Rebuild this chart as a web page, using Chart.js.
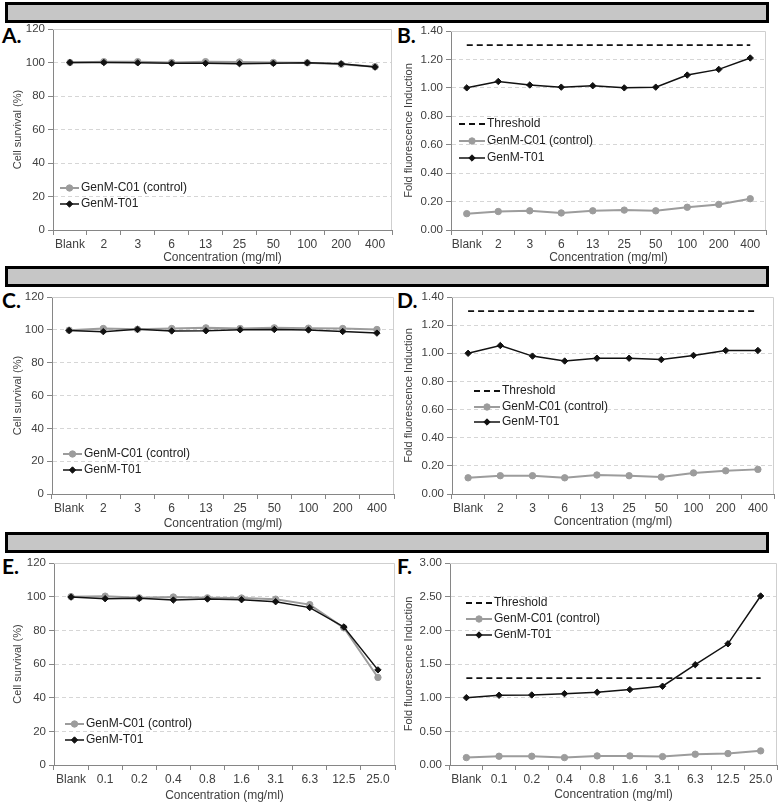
<!DOCTYPE html>
<html>
<head>
<meta charset="utf-8">
<script src="https://cdn.jsdelivr.net/npm/chart.js@4.4.1/dist/chart.umd.min.js"></script>
<style>
    body { margin: 0; width: 782px; height: 803px; background: #fff; position: relative; overflow: hidden; }
    .bar { position: absolute; left: 5px; width: 758px; height: 15px; background: #c6c6c6; border: 3px solid #000; }
    .tag { position: absolute; font: bold 21px Lato, "Liberation Sans", sans-serif; line-height: 21px; color: #000; }
    canvas { position: absolute; }
</style>
</head>
<body>
<div class="bar" style="top:2px"></div>
<div class="bar" style="top:266px"></div>
<div class="bar" style="top:532px"></div>

<div class="tag" style="left:2px;top:24px">A.</div>
<div class="tag" style="left:397px;top:24px">B.</div>
<div class="tag" style="left:2px;top:289px">C.</div>
<div class="tag" style="left:397px;top:289px">D.</div>
<div class="tag" style="left:2px;top:555px">E.</div>
<div class="tag" style="left:397px;top:555px">F.</div>

<canvas id="chartA" width="400" height="248" style="left:0;top:17px"></canvas>
<canvas id="chartB" width="386" height="248" style="left:396px;top:17px"></canvas>
<canvas id="chartC" width="400" height="246" style="left:0;top:285px"></canvas>
<canvas id="chartD" width="386" height="246" style="left:396px;top:285px"></canvas>
<canvas id="chartE" width="400" height="252" style="left:0;top:551px"></canvas>
<canvas id="chartF" width="386" height="252" style="left:396px;top:551px"></canvas>

<script>
// --- Data ---
const concHigh = ['Blank', '2', '3', '6', '13', '25', '50', '100', '200', '400'];
const concLow = ['Blank', '0.1', '0.2', '0.4', '0.8', '1.6', '3.1', '6.3', '12.5', '25.0'];

const survivalTicks = [0, 20, 40, 60, 80, 100, 120];
const foldTicksSmall = [0, 0.2, 0.4, 0.6, 0.8, 1.0, 1.2, 1.4];
const foldTicksLarge = [0, 0.5, 1.0, 1.5, 2.0, 2.5, 3.0];

// A. cell survival
const aControl = [100, 100.5, 100.5, 100, 100.5, 100.3, 100, 99.8, 99, 97.5];
const aTest = [100, 100, 99.8, 99.5, 99.5, 99.3, 99.5, 99.8, 99.2, 97.3];
// B. fold induction
const bThreshold = [1.3, 1.3, 1.3, 1.3, 1.3, 1.3, 1.3, 1.3, 1.3, 1.3];
const bControl = [0.115, 0.13, 0.135, 0.12, 0.135, 0.14, 0.135, 0.16, 0.18, 0.22];
const bTest = [1.0, 1.045, 1.02, 1.005, 1.015, 1.0, 1.005, 1.09, 1.13, 1.21];
// C. cell survival
const cControl = [99.8, 100.8, 100.3, 100.8, 101.2, 100.8, 101.2, 101, 100.8, 100.2];
const cTest = [99.6, 98.9, 100.3, 99.3, 99.4, 100, 100.2, 99.9, 99, 98];
// D. fold induction
const dThreshold = [1.3, 1.3, 1.3, 1.3, 1.3, 1.3, 1.3, 1.3, 1.3, 1.3];
const dControl = [0.115, 0.13, 0.13, 0.115, 0.135, 0.13, 0.12, 0.15, 0.165, 0.175];
const dTest = [1.0, 1.055, 0.98, 0.945, 0.965, 0.965, 0.955, 0.985, 1.02, 1.02];
// E. cell survival
const eControl = [100, 100.3, 99.3, 99.8, 99.3, 99.2, 98.5, 95.3, 81.5, 52];
const eTest = [99.8, 98.8, 99, 98, 98.6, 98.2, 97, 93.5, 82, 56.5];
// F. fold induction
const fThreshold = [1.29, 1.29, 1.29, 1.29, 1.29, 1.29, 1.29, 1.29, 1.29, 1.29];
const fControl = [0.11, 0.13, 0.13, 0.11, 0.135, 0.135, 0.125, 0.16, 0.17, 0.21];
const fTest = [1.0, 1.035, 1.04, 1.06, 1.08, 1.12, 1.17, 1.49, 1.80, 2.51];

// --- Styles ---
const FONT = '"Liberation Sans", Arial, sans-serif';
const AXIS = '#868686';
const TEXT = '#404040';
const GREY = '#9c9c9c';
const BLACK = '#111';

function thresholdSet(data) {
    return { label: 'Threshold', data, borderColor: BLACK, backgroundColor: BLACK,
        borderWidth: 1.8, borderDash: [6, 4], pointRadius: 0, order: 2 };
}
function controlSet(data) {
    return { label: 'GenM-C01 (control)', data, borderColor: GREY, backgroundColor: GREY,
        borderWidth: 2, pointStyle: 'circle', pointRadius: 3.2, pointBorderWidth: 1, order: 1 };
}
function testSet(data) {
    return { label: 'GenM-T01', data, borderColor: BLACK, backgroundColor: BLACK,
        borderWidth: 1.5, pointStyle: 'rectRot', pointRadius: 3.2, pointBorderWidth: 1, order: 0 };
}

// plot-area frame (top/right) + in-plot legend
const decor = {
    id: 'decor',
    beforeDatasetsDraw(chart) {
        const { ctx, chartArea: a } = chart;
        ctx.save();
        ctx.strokeStyle = '#cfcfcf';
        ctx.lineWidth = 1;
        ctx.beginPath();
        ctx.moveTo(a.left, a.top + 0.5);
        ctx.lineTo(a.right - 0.5, a.top + 0.5);
        ctx.lineTo(a.right - 0.5, a.bottom);
        ctx.stroke();
        ctx.restore();
    },
    afterDatasetsDraw(chart, args, opts) {
        const { ctx } = chart;
        chart.data.datasets.forEach((ds, i) => {
            const y = opts.y[i];
            const x0 = opts.x;
            ctx.save();
            ctx.strokeStyle = ds.borderColor;
            ctx.lineWidth = ds.borderWidth;
            ctx.setLineDash(ds.borderDash || []);
            ctx.beginPath();
            ctx.moveTo(x0, y);
            ctx.lineTo(x0 + opts.len, y);
            ctx.stroke();
            ctx.setLineDash([]);
            if (ds.pointRadius) {
                ctx.fillStyle = ds.backgroundColor;
                ctx.strokeStyle = ds.borderColor;
                ctx.lineWidth = 1;
                Chart.helpers.drawPoint(ctx, { pointStyle: ds.pointStyle, radius: ds.pointRadius,
                    rotation: 0, borderWidth: 1 }, x0 + opts.len / 2, y);
            }
            ctx.fillStyle = '#222';
            ctx.font = '12px ' + FONT;
            ctx.textBaseline = 'middle';
            ctx.fillText(ds.label, x0 + opts.len + 2, y);
            ctx.restore();
        });
    }
};

function makePanel(id, labels, datasets, yTicks, yTitle, fmt, g) {
    const yMax = yTicks[yTicks.length - 1];
    return new Chart(document.getElementById(id), {
        type: 'line',
        data: { labels, datasets },
        plugins: [decor],
        options: {
            responsive: false,
            animation: false,
            events: [],
            layout: { padding: { left: 0, top: g.top, right: g.right, bottom: 0 } },
            plugins: {
                legend: { display: false },
                tooltip: { enabled: false },
                decor: g.legend
            },
            scales: {
                x: {
                    type: 'category',
                    offset: true,
                    grid: { offset: true, drawOnChartArea: false, tickLength: 5, tickColor: AXIS },
                    border: { color: AXIS },
                    ticks: { color: TEXT, font: { size: 12, family: FONT }, padding: 2,
                        maxRotation: 0, autoSkip: false },
                    title: { display: true, text: 'Concentration (mg/ml)', color: TEXT,
                        font: { size: 12, family: FONT }, padding: { top: 0, bottom: g.titleBottom } },
                    afterFit: s => { s.height = g.xh; }
                },
                y: {
                    min: 0,
                    max: yMax,
                    afterBuildTicks: s => { s.ticks = yTicks.map(v => ({ value: v })); },
                    grid: {
                        color: c => (c.tick && (c.tick.value === 0 || c.tick.value === yMax)) ? 'rgba(0,0,0,0)' : '#d6d6d6',
                        tickLength: 5,
                        tickColor: AXIS
                    },
                    border: { color: AXIS, dash: [4, 3] },
                    ticks: { color: TEXT, font: { size: 11.5, family: FONT }, padding: 3, callback: v => fmt(v) },
                    title: { display: true, text: yTitle, color: TEXT,
                        font: { size: 11, family: FONT }, padding: { top: g.titleLeft, bottom: 0 } },
                    afterFit: s => { s.width = g.yw; }
                }
            }
        }
    });
}

const fmtInt = v => String(v);
const fmt2 = v => v.toFixed(2);

makePanel('chartA', concHigh, [controlSet(aControl), testSet(aTest)], survivalTicks, 'Cell survival (%)', fmtInt,
    { yw: 53, top: 12, right: 8, xh: 35, titleBottom: 0, titleLeft: 11,
      legend: { x: 60, y: [171, 187], len: 19 } });
makePanel('chartB', concHigh, [thresholdSet(bThreshold), controlSet(bControl), testSet(bTest)], foldTicksSmall,
    'Fold fluorescence Induction', fmt2,
    { yw: 55, top: 14, right: 16, xh: 35, titleBottom: 0, titleLeft: 6,
      legend: { x: 63, y: [107, 124, 141], len: 26 } });
makePanel('chartC', concHigh, [controlSet(cControl), testSet(cTest)], survivalTicks, 'Cell survival (%)', fmtInt,
    { yw: 52, top: 12, right: 6, xh: 37, titleBottom: 0, titleLeft: 11,
      legend: { x: 63, y: [169, 185], len: 19 } });
makePanel('chartD', concHigh, [thresholdSet(dThreshold), controlSet(dControl), testSet(dTest)], foldTicksSmall,
    'Fold fluorescence Induction', fmt2,
    { yw: 56, top: 12, right: 8, xh: 37, titleBottom: 2, titleLeft: 6,
      legend: { x: 78, y: [106, 122, 137], len: 26 } });
makePanel('chartE', concLow, [controlSet(eControl), testSet(eTest)], survivalTicks, 'Cell survival (%)', fmtInt,
    { yw: 54, top: 12, right: 5, xh: 38, titleBottom: 0, titleLeft: 11,
      legend: { x: 65, y: [173, 189], len: 19 } });
makePanel('chartF', concLow, [thresholdSet(fThreshold), controlSet(fControl), testSet(fTest)], foldTicksLarge,
    'Fold fluorescence Induction', fmt2,
    { yw: 54, top: 12, right: 2, xh: 38, titleBottom: 1, titleLeft: 6,
      legend: { x: 70, y: [52, 68, 84], len: 26 } });
</script>
</body>
</html>
